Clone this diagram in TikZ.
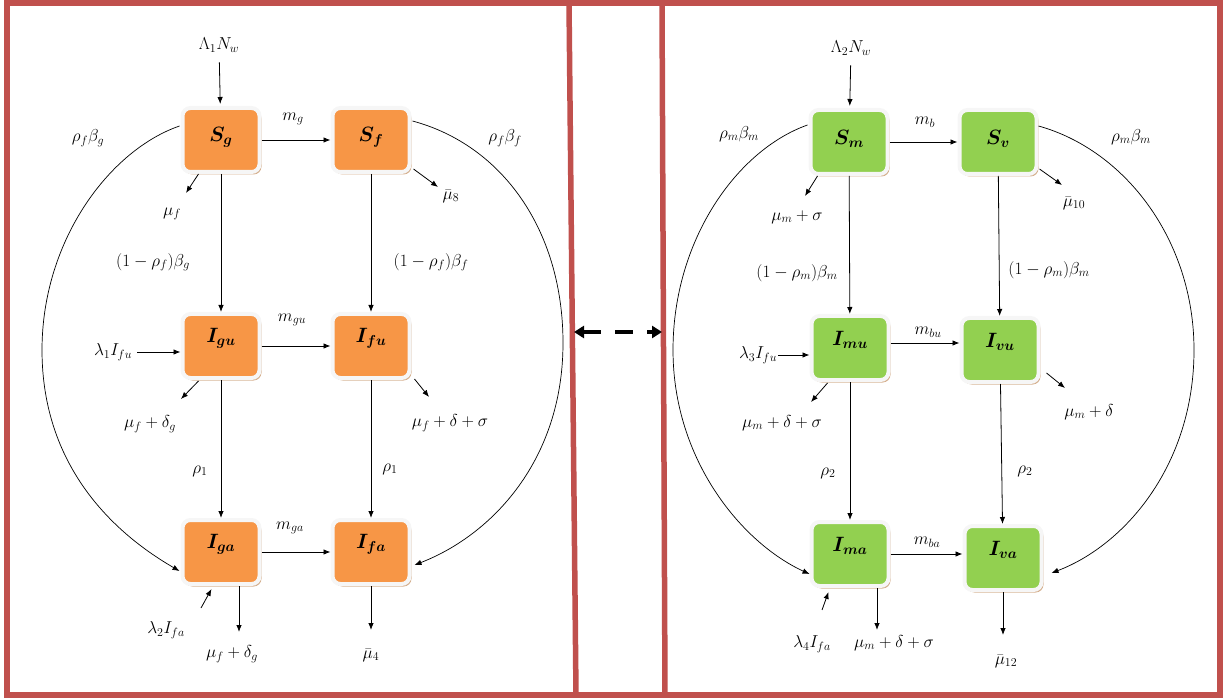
\documentclass[tikz,border=0pt]{standalone}
\usepackage{amsmath,bm}
\usetikzlibrary{arrows.meta,shadows,calc}
\definecolor{framered}{HTML}{C0504D}
\definecolor{orng}{HTML}{F79646}
\definecolor{grn}{HTML}{92D050}
\definecolor{shad}{HTML}{D4AE8C}
\definecolor{rim}{HTML}{F6F6F6}
\begin{document}
\begin{tikzpicture}[x=1pt,y=-1pt,
  comp/.style={rounded corners=8pt, minimum width=77pt, minimum height=64pt,
    draw=rim, line width=4pt, inner sep=0pt,
    drop shadow={shadow xshift=2pt, shadow yshift=-2.5pt, fill=shad, opacity=1}},
  ocomp/.style={comp, fill=orng},
  gcomp/.style={comp, fill=grn},
  clabS/.style={font=\fontsize{20.74}{23}\selectfont, yshift=3pt},
  clabI/.style={font=\fontsize{20.74}{23}\selectfont, yshift=8pt},
  lab/.style={font=\fontsize{17.28}{20}\selectfont, inner sep=1pt},
  flow/.style={-{Latex[length=7pt,width=5.5pt]}, line width=0.8pt},
  arc/.style={-{Latex[length=7pt,width=5.5pt]}, line width=0.7pt},
  bidir/.style={{Triangle[length=10pt,width=12pt]}-{Triangle[length=10pt,width=12pt]}, line width=4pt, dash pattern=on 18pt off 14pt},
  panel/.style={draw=framered, line width=5.5pt}
]
\useasboundingbox (0,0) rectangle (1225,700);

% ---------- frame ----------
\draw[panel] (7,3) rectangle (1220,695);
\coordinate (d1t) at (569,3);  \coordinate (d1b) at (576,695);
\coordinate (d2t) at (662,3);  \coordinate (d2b) at (665,695);
\draw[panel] (d1t) -- (d1b);
\draw[panel] (d2t) -- (d2b);
\coordinate (dl) at (574,332);
\coordinate (dr) at (662,332);
\draw[bidir] (dl) -- (dr);

% ---------- left panel compartments ----------
\node[ocomp, label={[clabS]center:$\bm{S_g}$}] (Sg) at (221,140) {};
\node[ocomp, label={[clabS]center:$\bm{S_f}$}] (Sf) at (371,140) {};
\node[ocomp, label={[clabI]center:$\bm{I_{gu}}$}] (Igu) at (221,346) {};
\node[ocomp, label={[clabI]center:$\bm{I_{fu}}$}] (Ifu) at (371,346) {};
\node[ocomp, label={[clabI]center:$\bm{I_{ga}}$}] (Iga) at (221,552) {};
\node[ocomp, label={[clabI]center:$\bm{I_{fa}}$}] (Ifa) at (371,552) {};

% labels left
\node[lab] (L1) at (219,45) {$\Lambda_1 N_w$};
\node[lab] (mg) at (293,119) {$m_g$};
\node[lab] (rfbg) at (88,138) {$\rho_f\beta_g$};
\node[lab] (rfbf) at (505,138) {$\rho_f\beta_f$};
\node[lab] (muf) at (172,214) {$\mu_f$};
\node[lab] (mub8) at (451,196) {$\bar{\mu}_8$};
\node[lab] (omg) at (153,262) {$(1-\rho_f)\beta_g$};
\node[lab] (omf) at (431,262) {$(1-\rho_f)\beta_f$};
\node[lab] (mgu) at (292,320) {$m_{gu}$};
\node[lab] (lam1) at (113,352) {$\lambda_1 I_{fu}$};
\node[lab] (mfdg) at (150,424) {$\mu_f+\delta_g$};
\node[lab] (mfds) at (450,423) {$\mu_f+\delta+\sigma$};
\node[lab] (rho1a) at (200,471) {$\rho_1$};
\node[lab] (rho1b) at (390,469) {$\rho_1$};
\node[lab] (mga) at (290,528) {$m_{ga}$};
\node[lab] (lam2) at (166,630) {$\lambda_2 I_{fa}$};
\node[lab] (mfdg2) at (232,654) {$\mu_f+\delta_g$};
\node[lab] (mub4) at (371,655) {$\bar{\mu}_4$};

% flows left
\draw[flow, shorten <=9pt, shorten >=2pt] (L1) -- (Sg);
\draw[flow] (Sg) -- (Sf);
\draw[flow] (Sg) -- (Igu);
\draw[flow] (Sf) -- (Ifu);
\draw[flow] (Igu) -- (Ifu);
\draw[flow] (Igu) -- (Iga);
\draw[flow] (Ifu) -- (Ifa);
\draw[flow] (Iga) -- (Ifa);
\coordinate (t1) at (186,193);
\draw[flow] ($(Sg.south west)+(18,0)$) -- (t1);
\coordinate (t2) at (438,187);
\draw[flow] ($(Sf.south east)+(2,-5)$) -- (t2);
\draw[flow, shorten <=4pt] (lam1.east) -- (lam1.east -| Igu.west);
\coordinate (t3) at (181,399);
\draw[flow] ($(Igu.south west)+(18,1)$) -- (t3);
\coordinate (t4) at (429,397);
\draw[flow] ($(Ifu.south east)+(3,-1)$) -- (t4);
\coordinate (s5) at (201,608);
\draw[flow] (s5) -- ($(Iga.south west)+(31,3)$);
\coordinate (t6) at (239,632);
\draw[flow] ($(Iga.south)+(18,0)$) -- (t6);
\coordinate (t7) at (371,630);
\draw[flow] (Ifa.south) -- (t7);
% arcs left
\draw[arc] ($(Sg.north west)+(-1,20)$) .. controls (110,150) and (42,240) .. (42,350)
  .. controls (42,465) and (112,532) .. ($(Iga.south west)+(-1,-15)$);
\draw[arc] ($(Sf.north east)+(1,15)$) .. controls (502,145) and (563,230) .. (563,343)
  .. controls (563,460) and (492,535) .. ($(Ifa.south east)+(3,-21)$);

% ---------- right panel compartments ----------
\node[gcomp, label={[clabS]center:$\bm{S_m}$}] (Sm) at (849,142) {};
\node[gcomp, label={[clabS]center:$\bm{S_v}$}] (Sv) at (998,142) {};
\node[gcomp, label={[clabI]center:$\bm{I_{mu}}$}] (Imu) at (850,348) {};
\node[gcomp, label={[clabI]center:$\bm{I_{vu}}$}] (Ivu) at (1000,350) {};
\node[gcomp, label={[clabI]center:$\bm{I_{ma}}$}] (Ima) at (850,554) {};
\node[gcomp, label={[clabI]center:$\bm{I_{va}}$}] (Iva) at (1003,558) {};

% labels right
\node[lab] (L2) at (851,48) {$\Lambda_2 N_w$};
\node[lab] (mb) at (925,122) {$m_b$};
\node[lab] (rmbm1) at (739,134) {$\rho_m\beta_m$};
\node[lab] (rmbm2) at (1131,137) {$\rho_m\beta_m$};
\node[lab] (mums) at (797,217) {$\mu_m+\sigma$};
\node[lab] (mub10) at (1074,203) {$\bar{\mu}_{10}$};
\node[lab] (omm1) at (797,273) {$(1-\rho_m)\beta_m$};
\node[lab] (omm2) at (1049,270) {$(1-\rho_m)\beta_m$};
\node[lab] (mbu) at (928,332) {$m_{bu}$};
\node[lab] (lam3) at (758,355) {$\lambda_3 I_{fu}$};
\node[lab] (mmds) at (782,423) {$\mu_m+\delta+\sigma$};
\node[lab] (mmd) at (1089,412) {$\mu_m+\delta$};
\node[lab] (rho2a) at (828,473) {$\rho_2$};
\node[lab] (rho2b) at (1025,471) {$\rho_2$};
\node[lab] (mba) at (927,542) {$m_{ba}$};
\node[lab] (lam4) at (812,644) {$\lambda_4 I_{fa}$};
\node[lab] (mmds2) at (894,643) {$\mu_m+\delta+\sigma$};
\node[lab] (mub12) at (1006,661) {$\bar{\mu}_{12}$};

% flows right
\draw[flow, shorten <=9pt, shorten >=2pt] (L2) -- (Sm);
\draw[flow] (Sm) -- (Sv);
\draw[flow] (Sm) -- (Imu);
\draw[flow] (Sv) -- (Ivu);
\draw[flow] ($(Imu.east)+(0,-5)$) -- ($(Imu.east -| Ivu.west)+(0,-5)$);
\draw[flow] (Imu) -- (Ima);
\draw[flow] (Ivu) -- (Iva);
\draw[flow] (Ima.east) -- (Ima.east -| Iva.west);
\coordinate (u1) at (805,196);
\draw[flow] ($(Sm.south west)+(9,0)$) -- (u1);
\coordinate (u2) at (1062,185);
\draw[flow] ($(Sv.south east)+(1,-7)$) -- (u2);
\draw[flow] (lam3.east) -- (lam3.east -| Imu.west);
\coordinate (u3) at (811,402);
\draw[flow] ($(Imu.south west)+(18,1)$) -- (u3);
\coordinate (u4) at (1065,388);
\draw[flow] ($(Ivu.south east)+(6,-11)$) -- (u4);
\coordinate (v5) at (822,610);
\draw[flow] (v5) -- ($(Ima.south west)+(19,4)$);
\coordinate (u6) at (877,630);
\draw[flow] ($(Ima.south)+(27,0)$) -- (u6);
\coordinate (u7) at (1003,635);
\draw[flow] (Iva.south) -- (u7);
% arcs right
\draw[arc] ($(Sm.north west)+(-1,17)$) .. controls (737,150) and (673,240) .. (673,350)
  .. controls (673,460) and (742,543) .. ($(Ima.south west)+(0,-14)$);
\draw[arc] ($(Sv.north east)+(0,18)$) .. controls (1125,150) and (1194,240) .. (1194,350)
  .. controls (1194,465) and (1125,545) .. ($(Iva.south east)+(8,-19)$);
\end{tikzpicture}
\end{document}
